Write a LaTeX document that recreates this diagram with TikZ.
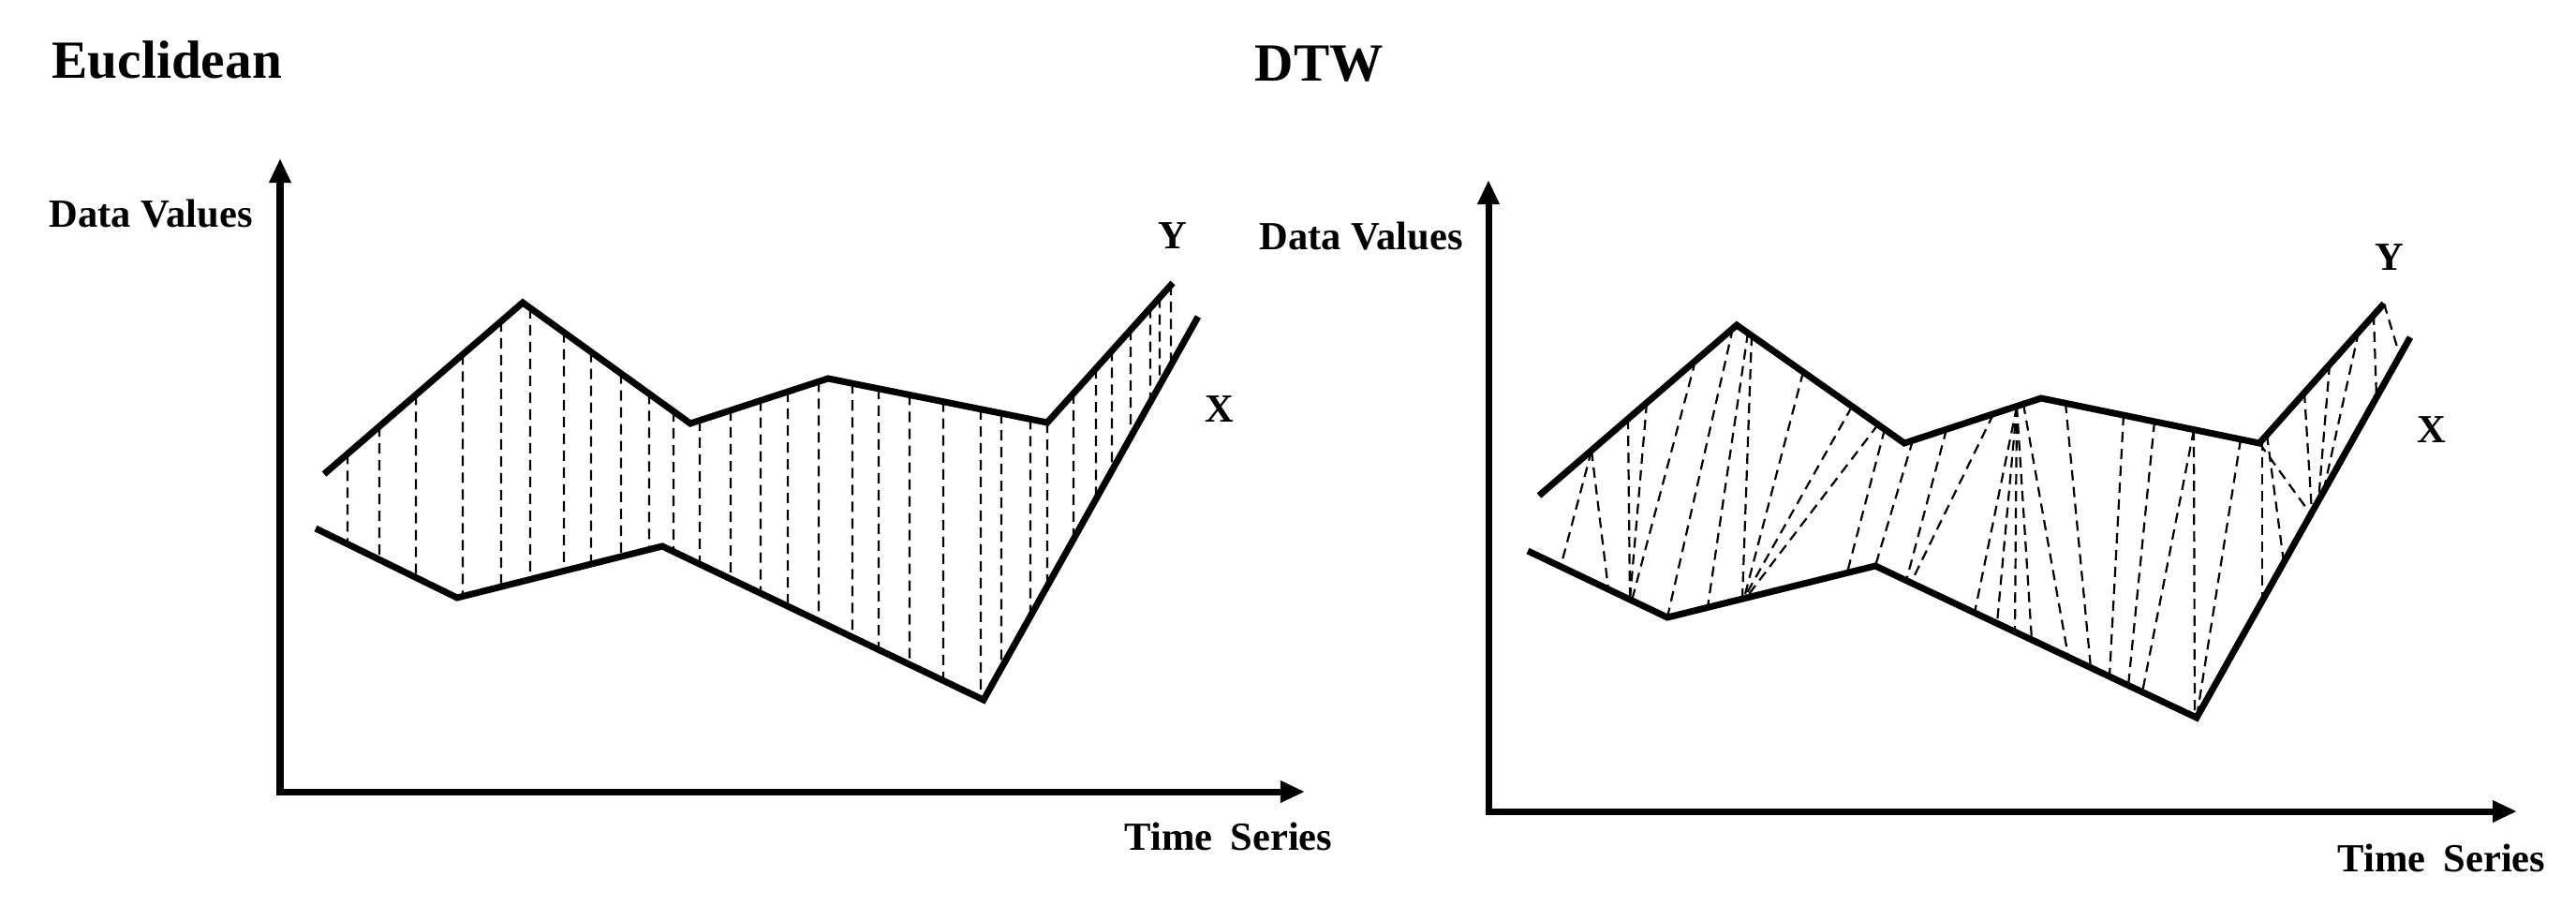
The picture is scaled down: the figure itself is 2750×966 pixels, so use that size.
\documentclass[tikz,border=0pt]{standalone}
\usepackage{fontspec}
\setmainfont{Liberation Serif}
\usetikzlibrary{arrows.meta,intersections}
\begin{document}
\begin{tikzpicture}[x=0.01cm, y=-0.01cm,
  curve/.style={line width=0.07cm, line join=miter},
  axis/.style={line width=0.07cm, {Triangle[length=0.26cm, width=0.22cm]}-{Triangle[length=0.26cm, width=0.22cm]}},
  dline/.style={line width=0.022cm, dash pattern=on 0.11cm off 0.07cm},
  lbl/.style={font=\fontsize{12.1pt}{14pt}\selectfont\bfseries, inner sep=0pt},
  ttl/.style={font=\fontsize{16.3pt}{19pt}\selectfont\bfseries, inner sep=0pt}]
\useasboundingbox (0,0) rectangle (2750,966);

% ---------- Left panel: Euclidean ----------
\coordinate (oa) at (299,845);
\coordinate (ytipa) at (299,169);
\coordinate (xtipa) at (1393,845);
\draw[axis] (ytipa) -- (oa) -- (xtipa);

\coordinate (ya1) at (346,506);
\coordinate (ya2) at (558,323);
\coordinate (ya3) at (737,452);
\coordinate (ya4) at (884,404);
\coordinate (ya5) at (1118,451);
\coordinate (ya6) at (1252,302);
\coordinate (xa1) at (337,564);
\coordinate (xa2) at (488,638);
\coordinate (xa3) at (707,583);
\coordinate (xa4) at (1050,747);
\coordinate (xa5) at (1279,338);

\draw[curve, name path=Yl] (ya1) -- (ya2) -- (ya3) -- (ya4) -- (ya5) -- (ya6);
\draw[curve, name path=Xl] (xa1) -- (xa2) -- (xa3) -- (xa4) -- (xa5);

\foreach \vx in {371,405,444,494,535,566,602,631,663,693,719,747,780,812,841,874,910,938,971,1007,1047,1069,1100,1118,1146,1170,1187,1207,1228,1238,1250}{
  \path[name path=vv] (\vx,150) -- (\vx,850);
  \path[name intersections={of=Yl and vv, by=p}];
  \path[name intersections={of=Xl and vv, by=q}];
  \draw[dline] (p) -- (q);
}

\node[ttl, anchor=base west] (t1) at (55,83) {Euclidean};
\node[lbl, anchor=base west] (dv1) at (52,242) {Data Values};
\node[lbl, anchor=base west] (ts1) at (1200,907) {Time\hspace{0.45em}Series};
\node[lbl, anchor=base] (ly1) at (1252,265) {Y};
\node[lbl, anchor=base] (lx1) at (1302,450) {X};

% ---------- Right panel: DTW ----------
\coordinate (ob) at (1589,866);
\coordinate (ytipb) at (1589,192);
\coordinate (xtipb) at (2687,866);
\draw[axis] (ytipb) -- (ob) -- (xtipb);

\coordinate (yb1) at (1643,529);
\coordinate (yb2) at (1854,347);
\coordinate (yb3) at (2033,473);
\coordinate (yb4) at (2179,425);
\coordinate (yb5) at (2412,473);
\coordinate (yb6) at (2545,324);
\coordinate (xb1) at (1631,588);
\coordinate (xb2) at (1780,659);
\coordinate (xb3) at (2002,604);
\coordinate (xb4) at (2345,766);
\coordinate (xb5) at (2573,360);

\foreach \xa/\ya/\xb/\yb in {
  1699/481/1666/605, 1699/481/1717/629, 1738/447/1740/640, 1758/430/1740/640,
  1810/385/1742/641, 1850/350/1780/659, 1870/358/1860/639, 1866/355/1823/648,
  1925/397/1862/638, 1977/434/1862/638, 2005/453/1864/638, 2012/458/1972/611,
  2042/470/2002/604, 2078/458/2035/620, 2128/442/2040/622,
  2153/434/2108/654, 2153/434/2132/665, 2153/434/2151/674, 2153/434/2169/683,
  2160/431/2208/701, 2205/430/2232/713, 2267/443/2252/722, 2300/450/2272/732,
  2342/459/2287/739, 2342/459/2343/765, 2392/469/2345/766,
  2412/473/2467/549, 2415/470/2415/641, 2420/464/2438/600,
  2460/419/2468/547, 2487/389/2475/535, 2518/354/2480/526,
  2534/336/2537/424, 2545/324/2562/380}{
  \draw[dline] (\xa,\ya) -- (\xb,\yb);
}

\draw[curve] (yb1) -- (yb2) -- (yb3) -- (yb4) -- (yb5) -- (yb6);
\draw[curve] (xb1) -- (xb2) -- (xb3) -- (xb4) -- (xb5);

\node[ttl, anchor=base west] (t2) at (1339,86) {DTW};
\node[lbl, anchor=base west] (dv2) at (1344,266) {Data Values};
\node[lbl, anchor=base west] (ts2) at (2495,930) {Time\hspace{0.45em}Series};
\node[lbl, anchor=base] (ly2) at (2551,288) {Y};
\node[lbl, anchor=base] (lx2) at (2596,472) {X};
\end{tikzpicture}
\end{document}
